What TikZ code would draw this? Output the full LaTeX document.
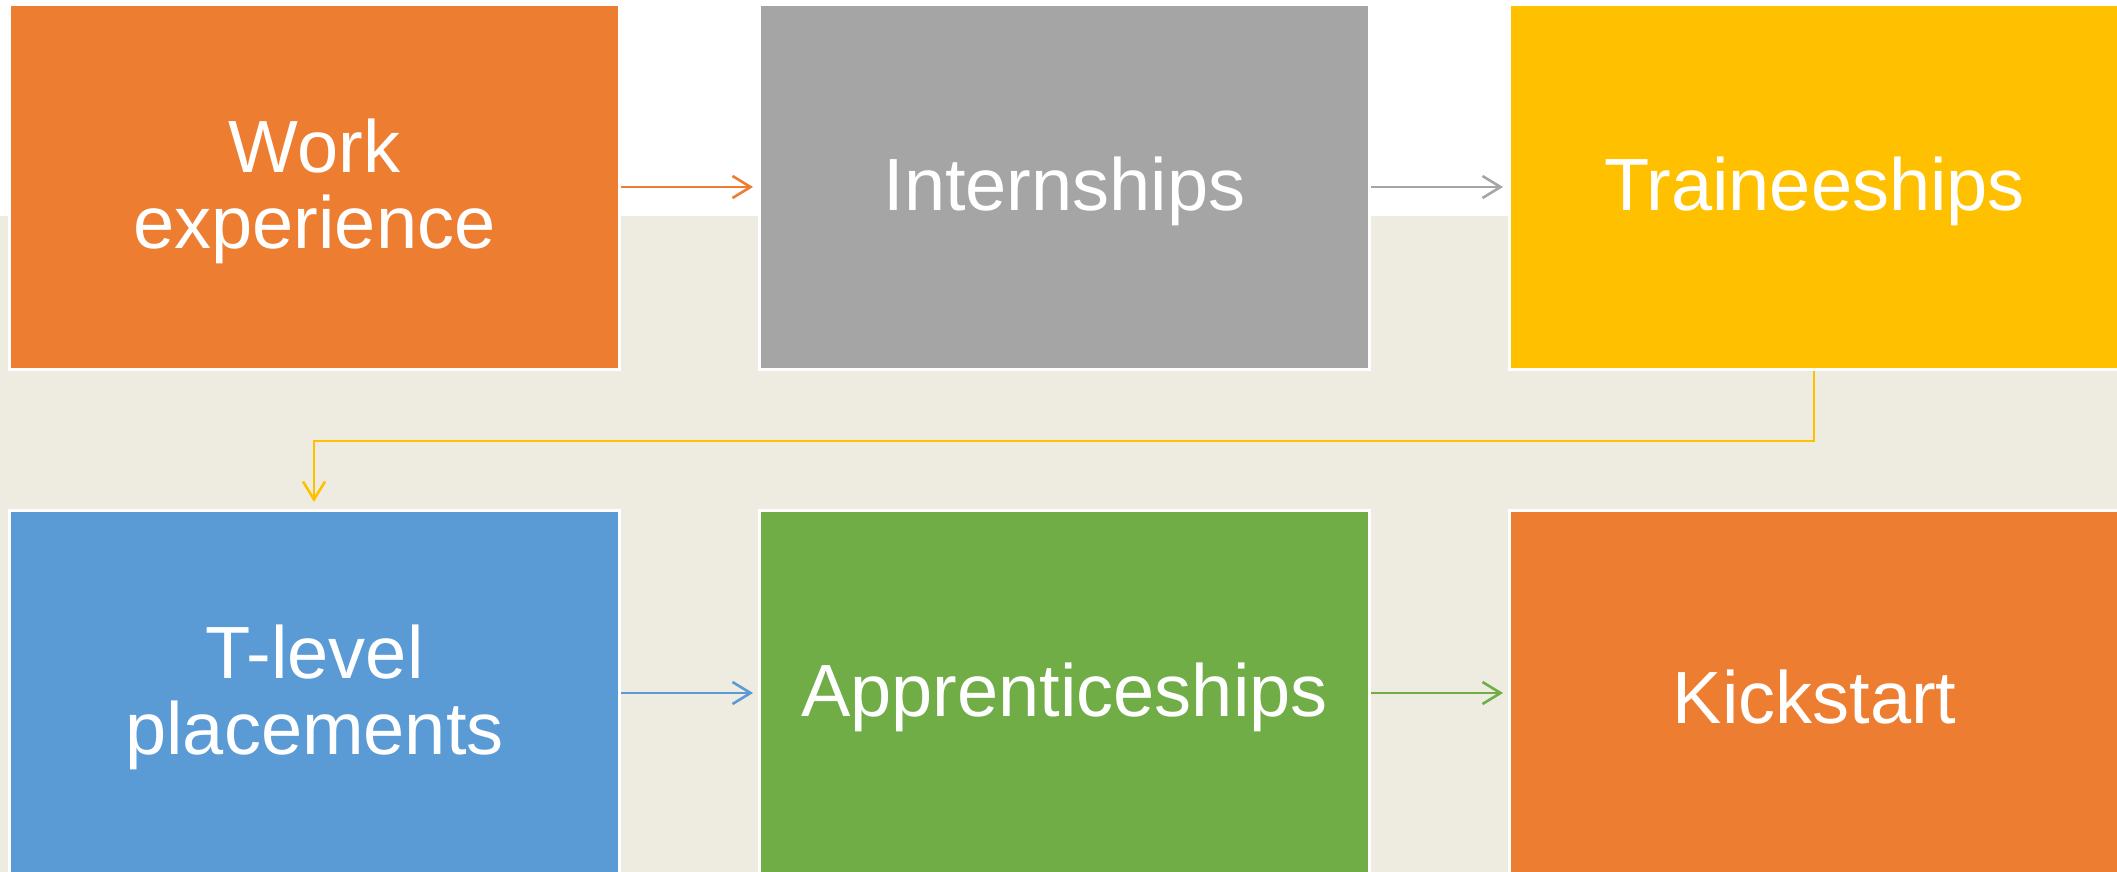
\documentclass[tikz,border=0pt]{standalone}
\usepackage{fontspec}
\setmainfont{Liberation Sans}
\usetikzlibrary{arrows.meta}
\definecolor{corange}{HTML}{ED7D31}
\definecolor{cgray}{HTML}{A5A5A5}
\definecolor{cgold}{HTML}{FFC000}
\definecolor{cblue}{HTML}{5B9BD5}
\definecolor{cgreen}{HTML}{70AD47}
\definecolor{cbeige}{HTML}{EEECE1}
\newcommand\tstrut{\rule{0pt}{62pt}}
\tikzset{
  stagebox/.style={rectangle, draw=white, line width=3pt, minimum width=610pt, minimum height=365pt,
    inner sep=0pt, text=white, align=center, font=\fontsize{74}{76}\selectfont},
  flow/.style={line width=2.6pt, -{Straight Barb[length=18pt,width=22pt,line width=2.6pt]}, shorten >=5pt}
}
\begin{document}
\begin{tikzpicture}[x=1pt,y=-1pt]
\useasboundingbox (0,0) rectangle (2117,872);
\clip (0,0) rectangle (2117,872);
\fill[white] (0,0) rectangle (2117,872);
\fill[cbeige] (0,216) rectangle (2117,872);
\node[stagebox, fill=corange] (we) at (314.5,187) {\tstrut Work\\experience};
\node[stagebox, fill=cgray] (in) at (1064.5,187) {\tstrut Internships};
\node[stagebox, fill=cgold] (tr) at (1814.5,187) {\tstrut Traineeships};
\node[stagebox, fill=cblue] (tl) at (314.5,693) {\tstrut T-level\\placements};
\node[stagebox, fill=cgreen] (ap) at (1064.5,693) {\tstrut Apprenticeships};
\node[stagebox, fill=corange] (ks) at (1814.5,693) {\tstrut Kickstart};
\draw[flow, draw=corange] (we.east) -- (in.west);
\draw[flow, draw=cgray] (in.east) -- (tr.west);
\draw[flow, draw=cblue] (tl.east) -- (ap.west);
\draw[flow, draw=cgreen] (ap.east) -- (ks.west);
\coordinate (c1) at (1814,441);
\coordinate (c2) at (314,441);
\draw[flow, draw=cgold, shorten >=7pt] (tr.south -| c1) -- (c1) -- (c2) -- (tl.north -| c2);
\end{tikzpicture}
\end{document}
